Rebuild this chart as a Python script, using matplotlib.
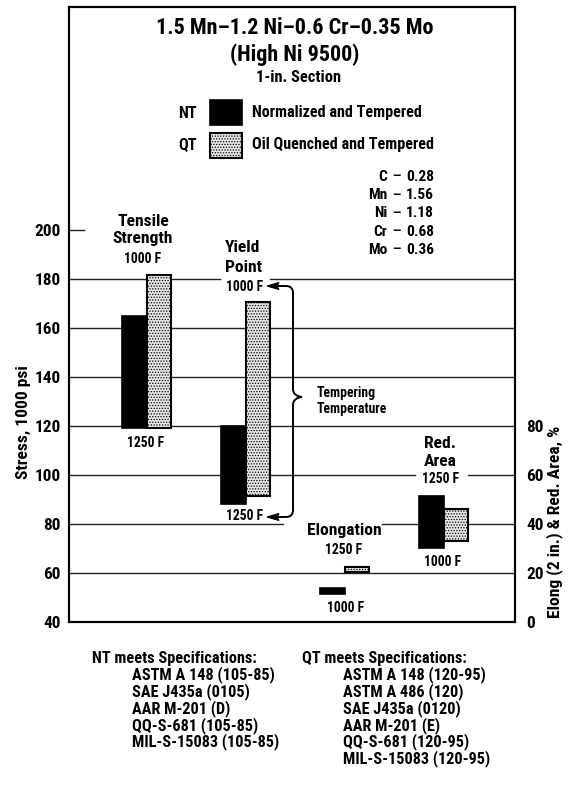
import matplotlib
matplotlib.use("Agg")
import matplotlib.pyplot as plt
from matplotlib.patches import Rectangle, Polygon, PathPatch
from matplotlib.path import Path

FAMILY = ['Roboto Condensed', 'Liberation Sans Narrow', 'Roboto', 'DejaVu Sans']
plt.rcParams['font.family'] = FAMILY
plt.rcParams['font.weight'] = 'bold'
plt.rcParams['hatch.linewidth'] = 0.6

# ---------------- data ----------------
stress_props = ["Tensile Strength", "Yield Point"]
stress_pos = [1, 2]
nt_stress_1000 = [165, 120]
nt_stress_1250 = [119, 88]
qt_stress_1000 = [181.5, 170.5]
qt_stress_1250 = [119, 91.5]

pct_props = ["Elongation", "Red. Area"]
pct_pos = [3, 4]
nt_pct_1000 = [11.5, 30]
nt_pct_1250 = [14, 51.5]
qt_pct_1000 = [20.5, 33]
qt_pct_1250 = [22.5, 46]

left_ticks = [40, 60, 80, 100, 120, 140, 160, 180, 200]
right_ticks = [0, 20, 40, 60, 80]

composition = [("C", "0.28"), ("Mn", "1.56"), ("Ni", "1.18"), ("Cr", "0.68"), ("Mo", "0.36")]
nt_specs = ["ASTM A 148 (105-85)", "SAE J435a (0105)", "AAR M-201 (D)",
            "QQ-S-681 (105-85)", "MIL-S-15083 (105-85)"]
qt_specs = ["ASTM A 148 (120-95)", "ASTM A 486 (120)", "SAE J435a (0120)",
            "AAR M-201 (E)", "QQ-S-681 (120-95)", "MIL-S-15083 (120-95)"]

# ---------------- figure ----------------
W, H = 572, 794
fig = plt.figure(figsize=(W / 100, H / 100), dpi=100)
renderer = fig.canvas.get_renderer()


def fit(s, target_px, base=10.0):
    """font size (pt) so that string s is about target_px wide"""
    t = fig.text(0, 0, s, fontsize=base, fontweight='bold')
    w = t.get_window_extent(renderer).width
    t.remove()
    return base * target_px / w


S_TITLE = fit("1.5 Mn\u20131.2 Ni\u20130.6 Cr\u20130.35 Mo", 278)
S_SECTION = fit("1-in. Section", 85)
S_LEG = fit("Oil Quenched and Tempered", 182)
S_COMP = fit("1.56", 28)
S_LABEL = fit("Strength", 60)
S_TEMP = fit("1000 F", 37)
S_TT = fit("Temperature", 70)
S_TICK = fit("200", 26)
S_AXLAB = fit("Elong (2 in.) & Red. Area, %", 192)
S_SPEC = fit("ASTM A 148 (105-85)", 143)

AX_L, AX_R, AX_T, AX_B = 69, 515, 7, 622
ax = fig.add_axes([AX_L / W, 1 - AX_B / H, (AX_R - AX_L) / W, (AX_B - AX_T) / H])
ax2 = ax.twinx()

ymin, ymax = 40, 291
ax.set_ylim(ymin, ymax)
ax2.set_ylim(ymin - 40, ymax - 40)
ax.set_xlim(0.215, 4.72)


def fx(px):
    return px / W


def fy(py):
    return 1 - py / H


def ftext(x, y, s, size=12, ha='center', va='center', **kw):
    fig.text(fx(x), fy(y), s, fontsize=size, ha=ha, va=va, fontweight='bold', **kw)


# gridlines (with gaps for labels), axes fraction spans
AXW = AX_R - AX_L


def fr(px):
    return (px - AX_L) / AXW


grid_segments = {
    200: [(0, fr(84))],
    180: [(0, fr(220)), (fr(270), 1)],
    160: [(0, 1)],
    140: [(0, 1)],
    120: [(0, 1)],
    100: [(0, fr(415)), (fr(468), 1)],
    80: [(0, fr(283)), (fr(382), 1)],
    60: [(0, 1)],
}
for yv, segs in grid_segments.items():
    for a, b in segs:
        ax.axhline(yv, xmin=a, xmax=b, color='#222222', lw=1.0, zorder=1)

bw = 0.25
nt_style = dict(facecolor='black', edgecolor='black', linewidth=1.2, zorder=3)
qt_style = dict(facecolor='#e6e6e6', edgecolor='black', hatch='......', linewidth=1.5, zorder=3)

for p, top, bot in zip(stress_pos, nt_stress_1000, nt_stress_1250):
    ax.bar(p - bw / 2, top - bot, bw, bottom=bot, **nt_style)
for p, top, bot in zip(stress_pos, qt_stress_1000, qt_stress_1250):
    ax.bar(p + bw / 2, top - bot, bw, bottom=bot, **qt_style)
for p, a, b in zip(pct_pos, nt_pct_1000, nt_pct_1250):
    ax2.bar(p - bw / 2, abs(b - a), bw, bottom=min(a, b), **nt_style)
for p, a, b in zip(pct_pos, qt_pct_1000, qt_pct_1250):
    ax2.bar(p + bw / 2, abs(b - a), bw, bottom=min(a, b), **qt_style)

ax.set_xticks([])
ax.set_yticks(left_ticks)
ax.set_yticklabels([str(t) for t in left_ticks], fontsize=S_TICK, fontweight='bold')
ax.tick_params(axis='y', length=0, pad=6)
ax2.set_yticks(right_ticks)
ax2.set_yticklabels([str(t) for t in right_ticks], fontsize=S_TICK, fontweight='bold')
ax2.tick_params(axis='y', length=0, pad=8)
for a_ in (ax, ax2):
    for s in a_.spines.values():
        s.set_linewidth(1.5)

# axis labels
ftext(23, 422, "Stress, 1000 psi", size=S_AXLAB, rotation=90)
ftext(555, 522, "Elong (2 in.) & Red. Area, %", size=S_AXLAB, rotation=90)

# title
ftext(295, 28, "1.5 Mn\u20131.2 Ni\u20130.6 Cr\u20130.35 Mo", size=S_TITLE)
ftext(295, 55, "(High Ni 9500)", size=S_TITLE)
ftext(298, 78, "1-in. Section", size=S_SECTION)

# legend
ftext(197, 113, "NT", size=S_LEG, ha='right')
ftext(197, 145, "QT", size=S_LEG, ha='right')
fig.patches.append(Rectangle((fx(210), fy(125)), (242 - 210) / W, 25 / H,
                             transform=fig.transFigure, facecolor='black', edgecolor='black', lw=1.2))
fig.patches.append(Rectangle((fx(210), fy(158)), (242 - 210) / W, 25 / H,
                             transform=fig.transFigure, facecolor='#e6e6e6', edgecolor='black',
                             hatch='......', lw=1.5))
ftext(252, 113, "Normalized and Tempered", size=S_LEG, ha='left')
ftext(252, 145, "Oil Quenched and Tempered", size=S_LEG, ha='left')

# composition
for i, (el, val) in enumerate(composition):
    yy = 177 + i * 18.2
    ftext(387, yy, el, size=S_COMP, ha='right')
    ftext(396, yy, "\u2014", size=S_COMP * 0.8)
    ftext(406, yy, val, size=S_COMP, ha='left')

# bar labels
ftext(143, 222, "Tensile", size=S_LABEL)
ftext(143, 239, "Strength", size=S_LABEL)
ftext(143, 259, "1000 F", size=S_TEMP)
ftext(146, 443, "1250 F", size=S_TEMP)

ftext(243, 248, "Yield", size=S_LABEL)
ftext(243, 267, "Point", size=S_LABEL)
ftext(245, 287, "1000 F", size=S_TEMP)
ftext(245, 516, "1250 F", size=S_TEMP)

ftext(317, 393, "Tempering", size=S_TT, ha='left')
ftext(317, 409, "Temperature", size=S_TT, ha='left')

ftext(344, 530, "Elongation", size=S_LABEL)
ftext(344, 550, "1250 F", size=S_TEMP)
ftext(346, 608, "1000 F", size=S_TEMP)

ftext(440, 443, "Red.", size=S_LABEL)
ftext(440, 461, "Area", size=S_LABEL)
ftext(441, 479, "1250 F", size=S_TEMP)
ftext(443, 562, "1000 F", size=S_TEMP)


# tempering temperature brace with arrows
def P(x, y):
    return (fx(x), fy(y))


verts = [P(274, 286), P(286, 286), P(293, 286), P(293, 293),
         P(293, 389), P(293, 396), P(302, 397),
         P(293, 398), P(293, 405), P(293, 510),
         P(293, 517), P(286, 517), P(274, 517)]
codes = [Path.MOVETO, Path.LINETO, Path.CURVE3, Path.CURVE3,
         Path.LINETO, Path.CURVE3, Path.CURVE3,
         Path.CURVE3, Path.CURVE3, Path.LINETO,
         Path.CURVE3, Path.CURVE3, Path.LINETO]
fig.patches.append(PathPatch(Path(verts, codes), transform=fig.transFigure,
                             facecolor='none', edgecolor='black', lw=1.4))
for yy in (286, 517):
    fig.patches.append(Polygon([P(267, yy), P(279, yy - 3.5), P(277, yy), P(279, yy + 3.5)],
                               closed=True, transform=fig.transFigure,
                               facecolor='black', edgecolor='black', lw=0.8))

# specifications
ftext(92, 658, "NT meets Specifications:", size=S_SPEC, ha='left')
for i, s in enumerate(nt_specs):
    ftext(132, 675 + i * 16.7, s, size=S_SPEC, ha='left')
ftext(302, 658, "QT meets Specifications:", size=S_SPEC, ha='left')
for i, s in enumerate(qt_specs):
    ftext(343, 675 + i * 16.7, s, size=S_SPEC, ha='left')

fig.savefig("out.png", dpi=100)
